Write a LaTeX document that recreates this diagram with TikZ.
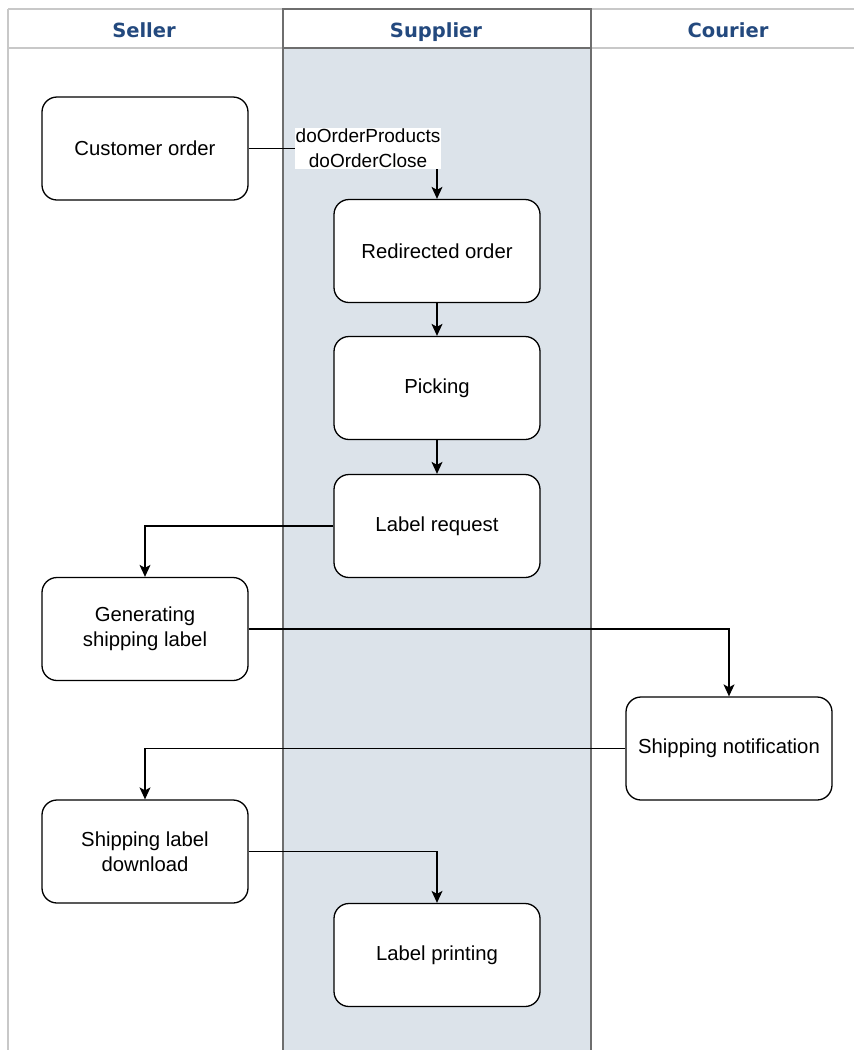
\documentclass[tikz,border=0pt]{standalone}
\usepackage{fontspec}
\setmainfont{Liberation Sans}
\newfontfamily\headfont{DejaVu Sans}
\usetikzlibrary{arrows.meta}
\definecolor{lanefill}{HTML}{DCE3EA}
\definecolor{laneborder}{HTML}{6E6E6E}
\definecolor{lightline}{HTML}{C8C8C8}
\definecolor{headblue}{HTML}{23497E}
\begin{document}
\begin{tikzpicture}[x=1pt,y=-1pt,
  proc/.style={draw=black, line width=1.3pt, fill=white, rounded corners=15pt,
    minimum width=206pt, minimum height=103pt, inner sep=0pt, align=center,
    font=\fontsize{20.3}{25}\selectfont},
  flow/.style={draw=black, line width=1.3pt, -{Stealth[length=12pt,width=11pt,inset=3pt]}},
  lanehead/.style={font=\headfont\bfseries\fontsize{19.5}{22}\selectfont, text=headblue, anchor=base},
  elabel/.style={fill=white, inner sep=1pt, align=center, font=\fontsize{19}{25}\selectfont}
]
\useasboundingbox (0,0) rectangle (854,1050);
\fill[white] (0,0) rectangle (854,1050);
% lanes
\fill[lanefill] (283,48) rectangle (591,1050);
\draw[lightline, line width=1.2pt] (8,9) -- (854,9);
\draw[lightline, line width=1.2pt] (8,48) -- (854,48);
\draw[lightline, line width=1.2pt] (8,9) -- (8,1050);
\draw[laneborder, line width=1.2pt] (283,1050) -- (283,9) -- (591,9) -- (591,1050);
\draw[laneborder, line width=1.2pt] (283,48) -- (591,48);
\node[lanehead] (hseller) at (144,37) {Seller};
\node[lanehead] (hsupplier) at (436,37) {Supplier};
\node[lanehead] (hcourier) at (728,37) {Courier};
% nodes
\node[proc] (cust) at (145,148.5) {Customer order};
\node[proc] (redir) at (437,251) {Redirected order};
\node[proc] (pick) at (437,388) {Picking};
\node[proc] (lreq) at (437,526) {Label request};
\node[proc] (gen) at (145,629) {Generating\\shipping label};
\node[proc] (notif) at (729,748.5) {Shipping notification};
\node[proc] (down) at (145,851.5) {Shipping label\\download};
\node[proc] (print) at (437,955) {Label printing};
% edges
\draw[flow] (cust.east) -| node[elabel, pos=0.317] (lab) {doOrderProducts\\doOrderClose} (redir.north);
\draw[flow] (redir) -- (pick);
\draw[flow] (pick) -- (lreq);
\draw[flow] (lreq.west) -| (gen.north);
\draw[flow] (gen.east) -| (notif.north);
\draw[flow] (notif.west) -| (down.north);
\draw[flow] (down.east) -| (print.north);
\end{tikzpicture}
\end{document}
